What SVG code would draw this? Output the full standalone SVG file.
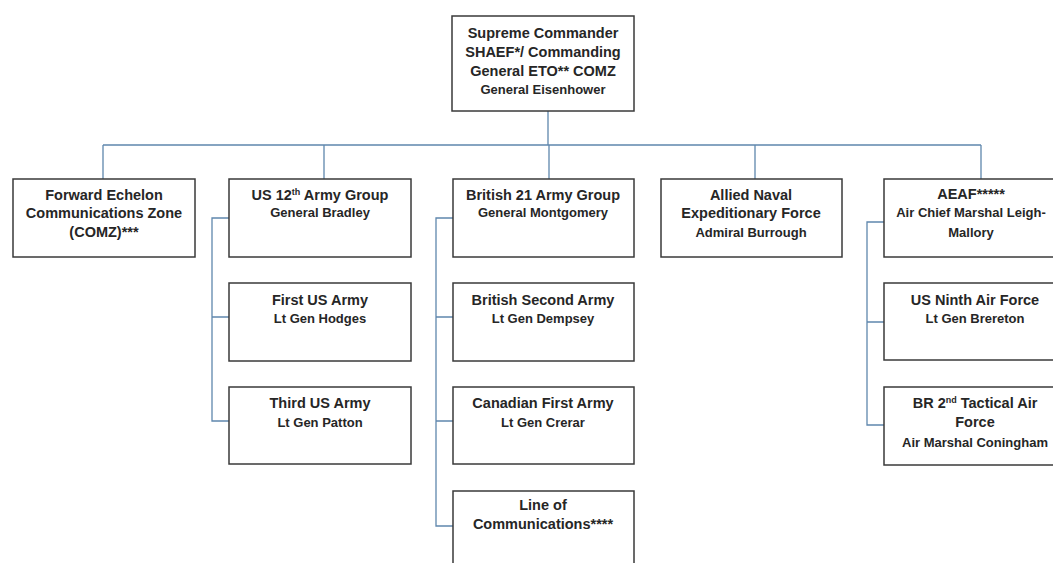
<svg xmlns="http://www.w3.org/2000/svg" width="1053" height="563" viewBox="0 0 1053 563">
<style>
.box{fill:#fff;stroke:#3a3a3a;stroke-width:1.5}
.t{font-family:"Liberation Sans",Arial,sans-serif;font-weight:bold;font-size:14.5px;fill:#262626;text-anchor:middle}
.s{font-size:13px}
.sup{font-size:9px}
.c{fill:none;stroke:#5f87ad;stroke-width:1.3}
</style>
<rect width="1053" height="563" fill="#fff"/>
<g id="connectors">
<path class="c" d="M548 111V145M103 145H981M103 145V179M324 145V179M549 145V179M755 145V179M981 145V179"/>
<path class="c" d="M229 218H212V421H229M212 317H229"/>
<path class="c" d="M453 218H436V526H453M436 317H453M436 421H453"/>
<path class="c" d="M884 222H867V425H884M867 322H884"/>
</g>
<g id="supreme"><rect class="box" x="452" y="16" width="182" height="95"/>
<text class="t" x="543" y="38">Supreme Commander</text>
<text class="t" x="543" y="57">SHAEF*/ Commanding</text>
<text class="t" x="543" y="76">General ETO** COMZ</text>
<text class="t s" x="543" y="94">General Eisenhower</text></g>
<g id="forward"><rect class="box" x="13" y="179" width="182" height="78"/>
<text class="t" x="104" y="200">Forward Echelon</text>
<text class="t" x="104" y="218">Communications Zone</text>
<text class="t" x="104" y="237">(COMZ)***</text></g>
<g id="us12"><rect class="box" x="229" y="179" width="182" height="78"/>
<text class="t" x="320" y="200">US 12<tspan class="sup" dy="-5">th</tspan><tspan dy="5"> Army Group</tspan></text>
<text class="t s" x="320" y="217">General Bradley</text></g>
<g id="br21"><rect class="box" x="453" y="179" width="181" height="78"/>
<text class="t" x="543" y="200">British 21 Army Group</text>
<text class="t s" x="543" y="217">General Montgomery</text></g>
<g id="naval"><rect class="box" x="661" y="179" width="181" height="78"/>
<text class="t" x="751" y="200">Allied Naval</text>
<text class="t" x="751" y="218">Expeditionary Force</text>
<text class="t s" x="751" y="237">Admiral Burrough</text></g>
<g id="aeaf"><rect class="box" x="884" y="179" width="182" height="78"/>
<text class="t" x="971" y="199">AEAF*****</text>
<text class="t s" x="971" y="217">Air Chief Marshal  Leigh-</text>
<text class="t s" x="971" y="237">Mallory</text></g>
<g id="first"><rect class="box" x="229" y="283" width="182" height="78"/>
<text class="t" x="320" y="305">First US Army</text>
<text class="t s" x="320" y="323">Lt Gen Hodges</text></g>
<g id="third"><rect class="box" x="229" y="387" width="182" height="77"/>
<text class="t" x="320" y="408">Third US Army</text>
<text class="t s" x="320" y="427">Lt Gen Patton</text></g>
<g id="brsecond"><rect class="box" x="453" y="283" width="181" height="78"/>
<text class="t" x="543" y="305">British Second Army</text>
<text class="t s" x="543" y="323">Lt Gen Dempsey</text></g>
<g id="canadian"><rect class="box" x="453" y="387" width="181" height="77"/>
<text class="t" x="543" y="408">Canadian First Army</text>
<text class="t s" x="543" y="427">Lt Gen Crerar</text></g>
<g id="loc"><rect class="box" x="453" y="491" width="181" height="78"/>
<text class="t" x="543" y="510">Line of</text>
<text class="t" x="543" y="529">Communications****</text></g>
<g id="ninth"><rect class="box" x="884" y="283" width="182" height="77"/>
<text class="t" x="975" y="305">US Ninth Air Force</text>
<text class="t s" x="975" y="323">Lt Gen Brereton</text></g>
<g id="br2"><rect class="box" x="884" y="387" width="182" height="78"/>
<text class="t" x="975" y="408">BR 2<tspan class="sup" dy="-5">nd</tspan><tspan dy="5"> Tactical Air</tspan></text>
<text class="t" x="975" y="427">Force</text>
<text class="t s" x="975" y="447">Air Marshal  Coningham</text></g>
</svg>
